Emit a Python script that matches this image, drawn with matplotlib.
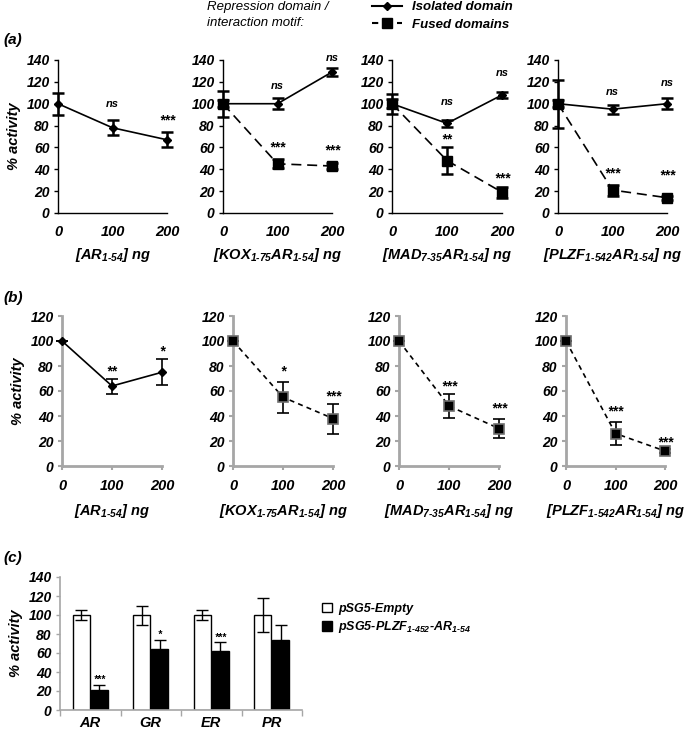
import matplotlib
matplotlib.use('Agg')
import matplotlib.pyplot as plt
from matplotlib.lines import Line2D
from matplotlib.patches import Patch
import numpy as np

plt.rcParams['font.family'] = ['Liberation Sans', 'DejaVu Sans']
plt.rcParams['font.weight'] = 'bold'
plt.rcParams['font.style'] = 'italic'
plt.rcParams['mathtext.fontset'] = 'custom'
plt.rcParams['mathtext.rm'] = 'Liberation Sans:bold:italic'
plt.rcParams['mathtext.it'] = 'Liberation Sans:bold:italic'
plt.rcParams['mathtext.bf'] = 'Liberation Sans:bold:italic'

# ---------------- data ----------------
doses = [0, 100, 200]

# panel (a)
a_labels = [r'[AR$_{\text{1-54}}$] ng', r'[KOX$_{\text{1-75}}$AR$_{\text{1-54}}$] ng',
            r'[MAD$_{\text{7-35}}$AR$_{\text{1-54}}$] ng', r'[PLZF$_{\text{1-542}}$AR$_{\text{1-54}}$] ng']
a_iso = [[100, 78, 67], [100, 100, 129], [100, 82, 108], [100, 95, 100]]
a_iso_err = [[10, 7, 7], [3, 5, 4], [9, 3, 3], [3, 4, 5]]
a_fus = [None, [100, 45, 43], [100, 48, 19], [100, 21, 14]]
a_fus_err = [None, [12, 4, 3], [4, 12, 5], [22, 5, 2]]
a_iso_sig = [['', 'ns', '***'], ['', 'ns', 'ns'], ['', 'ns', 'ns'], ['', 'ns', 'ns']]
a_iso_sig_y = [[0, 100, 85], [0, 116, 142], [0, 102, 128], [0, 111, 119]]
a_fus_sig = [None, ['', '***', '***'], ['', '**', '***'], ['', '***', '***']]
a_fus_sig_y = [None, [0, 60, 57], [0, 67, 32], [0, 36, 34]]

# panel (b)
b_vals = [[100, 64, 75], [100, 55, 38], [100, 48, 30], [100, 26, 12]]
b_err = [[0, 6, 10.5], [0, 12.5, 12], [0, 9.5, 7.5], [0, 9, 1.5]]
b_sig = [['', '**', '*'], ['', '*', '***'], ['', '***', '***'], ['', '***', '***']]
b_sig_y = [[0, 76, 92], [0, 76, 56], [0, 64, 46], [0, 44, 19]]

# panel (c)
receptors = ['AR', 'GR', 'ER', 'PR']
c_empty = [100, 100, 100, 100]
c_empty_err = [5, 10, 5, 18]
c_plzf = [21, 64, 62, 74]
c_plzf_err = [5, 10, 10, 15]
c_sig = ['***', '*', '***', '']
c_sig_y = [32, 79, 76, 0]

W, H = 690, 732
fig = plt.figure(figsize=(W / 100, H / 100), dpi=100)


def ax_px(x0, x1, y_top, y_bot):
    return fig.add_axes([x0 / W, 1 - y_bot / H, (x1 - x0) / W, (y_bot - y_top) / H])


BI = dict(fontweight='bold', fontstyle='italic')

# ---------------- panel (a) ----------------
a_x = [(58, 167), (223, 332), (392, 502), (558, 667)]
for i, (x0, x1) in enumerate(a_x):
    ax = ax_px(x0, x1, 60, 213)
    ax.set_xlim(0, 200)
    ax.set_ylim(0, 140)
    for s in ['top', 'right']:
        ax.spines[s].set_visible(False)
    for s in ['left', 'bottom']:
        ax.spines[s].set_color('black')
        ax.spines[s].set_linewidth(1.0)
    ax.set_yticks(range(0, 141, 20))
    ax.set_xticks(doses)
    ax.tick_params(axis='y', length=3, width=1, labelsize=10, pad=3)
    ax.tick_params(axis='x', length=0, labelsize=10.5, pad=9)
    for lab in ax.get_xticklabels() + ax.get_yticklabels():
        lab.set_fontweight('bold'); lab.set_fontstyle('italic')
    ax.set_xlabel(a_labels[i], fontsize=10.5, labelpad=5, **BI)
    if i == 0:
        ax.set_ylabel('% activity', fontsize=10.5, labelpad=4, **BI)
    if a_fus[i] is not None:
        ax.errorbar(doses, a_fus[i], yerr=a_fus_err[i], color='black', marker='s', ms=7,
                    ls=(0, (6, 3.5)), lw=1.2, capsize=4, elinewidth=1.8, capthick=1.8,
                    clip_on=False, zorder=3)
        for d, s, y in zip(doses, a_fus_sig[i], a_fus_sig_y[i]):
            if s:
                ax.text(d, y, s, ha='center', va='center', fontsize=10, fontweight='bold', clip_on=False)
    ax.errorbar(doses, a_iso[i], yerr=a_iso_err[i], color='black', marker='D', ms=4.5,
                ls='-', lw=1.2, capsize=4, elinewidth=1.8, capthick=1.8, clip_on=False, zorder=4)
    for d, s, y in zip(doses, a_iso_sig[i], a_iso_sig_y[i]):
        if s:
            ax.text(d, y, s, ha='center', va='center', fontsize=8 if s == 'ns' else 10,
                    fontweight='bold', fontstyle='italic', clip_on=False)

# ---------------- panel (b) ----------------
b_x = [(62, 162), (233, 333), (399, 499), (566, 665)]
grey = '#a6a6a6'
for i, (x0, x1) in enumerate(b_x):
    ax = ax_px(x0, x1, 316, 466)
    ax.set_xlim(0, 200)
    ax.set_ylim(0, 120)
    for s in ['top', 'right']:
        ax.spines[s].set_visible(False)
    for s in ['left', 'bottom']:
        ax.spines[s].set_color(grey)
        ax.spines[s].set_linewidth(2.0)
    ax.set_yticks(range(0, 121, 20))
    ax.set_xticks(doses)
    ax.tick_params(axis='y', length=3, width=1.5, color=grey, labelsize=10, pad=3)
    ax.tick_params(axis='x', length=3, width=1.5, color=grey, labelsize=10.5, pad=6)
    for lab in ax.get_xticklabels() + ax.get_yticklabels():
        lab.set_fontweight('bold'); lab.set_fontstyle('italic')
    ax.set_xlabel(a_labels[i], fontsize=10.5, labelpad=7, **BI)
    if i == 0:
        ax.set_ylabel('% activity', fontsize=10.5, labelpad=4, **BI)
        ax.errorbar(doses, b_vals[i], yerr=b_err[i], color='black', marker='D', ms=4.5,
                    ls='-', lw=1.2, capsize=4, elinewidth=1.2, capthick=1.2, clip_on=False, zorder=4)
    else:
        ax.errorbar(doses, b_vals[i], yerr=b_err[i], color='black', marker='s', ms=6.5,
                    mec='#6e6e6e', mew=1.2, ls=(0, (3, 2.5)), lw=1.2, capsize=4,
                    elinewidth=1.2, capthick=1.2, clip_on=False, zorder=4)
    for d, s, y in zip(doses, b_sig[i], b_sig_y[i]):
        if s:
            ax.text(d, y, s, ha='center', va='center', fontsize=10, fontweight='bold', clip_on=False)

# ---------------- panel (c) ----------------
axc = ax_px(60, 302, 577, 710)
xc = np.arange(len(receptors))
bw = 0.28
axc.bar(xc - 0.15, c_empty, bw, yerr=c_empty_err, color='white', edgecolor='black', lw=1.0,
        error_kw=dict(ecolor='black', capsize=4, elinewidth=1.0, capthick=1.0))
axc.bar(xc + 0.15, c_plzf, bw, yerr=c_plzf_err, color='black', edgecolor='black', lw=1.0,
        error_kw=dict(ecolor='black', capsize=4, elinewidth=1.0, capthick=1.0))
for x, s, y in zip(xc, c_sig, c_sig_y):
    if s:
        axc.text(x + 0.15, y, s, ha='center', va='center', fontsize=7.5, fontweight='bold')
axc.set_xlim(-0.5, len(receptors) - 0.5)
axc.set_ylim(0, 140)
for s in ['top', 'right']:
    axc.spines[s].set_visible(False)
for s in ['left', 'bottom']:
    axc.spines[s].set_color(grey)
    axc.spines[s].set_linewidth(1.2)
axc.set_yticks(range(0, 141, 20))
axc.set_xticks(xc)
axc.set_xticklabels(receptors)
axc.set_xticks(np.arange(-0.5, len(receptors)), minor=True)
axc.tick_params(axis='x', which='major', length=0, labelsize=10.5, pad=4.5)
axc.tick_params(axis='x', which='minor', length=4, width=1, color=grey)
axc.tick_params(axis='y', length=3, width=1, color=grey, labelsize=10, pad=3)
for lab in axc.get_xticklabels() + axc.get_yticklabels():
    lab.set_fontweight('bold'); lab.set_fontstyle('italic')
axc.set_ylabel('% activity', fontsize=10.5, labelpad=4, **BI)
axc.legend([Patch(facecolor='white', edgecolor='black'), Patch(facecolor='black', edgecolor='black')],
           ['pSG5-Empty', r'pSG5-PLZF$_{\text{1-452}}$-AR$_{\text{1-54}}$'],
           loc='center left', bbox_to_anchor=(322 / W, 1 - 619 / H), bbox_transform=fig.transFigure,
           frameon=False, handlelength=0.8, handleheight=0.8, handletextpad=0.5, labelspacing=0.35,
           borderaxespad=0, borderpad=0, prop=dict(size=9, weight='bold', style='italic'))

# ---------------- top legend & panel labels ----------------
fig.text(207 / W, 1 - 1 / H, 'Repression domain /\ninteraction motif:', ha='left', va='top',
         fontsize=9.5, fontweight='normal', fontstyle='italic', linespacing=1.5)
handles = [Line2D([], [], color='black', marker='D', ms=4.5, ls='-', lw=1.5),
           Line2D([], [], color='black', marker='s', ms=7, ls=(0, (3, 3)), lw=1.5)]
fig.legend(handles, ['Isolated domain', 'Fused domains'], loc='upper left',
           bbox_to_anchor=(372 / W, 1 - 1 / H), frameon=False, handlelength=2.3,
           handletextpad=0.7, labelspacing=0.4, borderaxespad=0, borderpad=0,
           prop=dict(size=9.5, weight='bold', style='italic'))

fig.text(3 / W, 1 - 40 / H, '(a)', fontsize=11, ha='left', va='center', **BI)
fig.text(3 / W, 1 - 298 / H, '(b)', fontsize=11, ha='left', va='center', **BI)
fig.text(3 / W, 1 - 558 / H, '(c)', fontsize=11, ha='left', va='center', **BI)

fig.savefig('out.png', dpi=100)
